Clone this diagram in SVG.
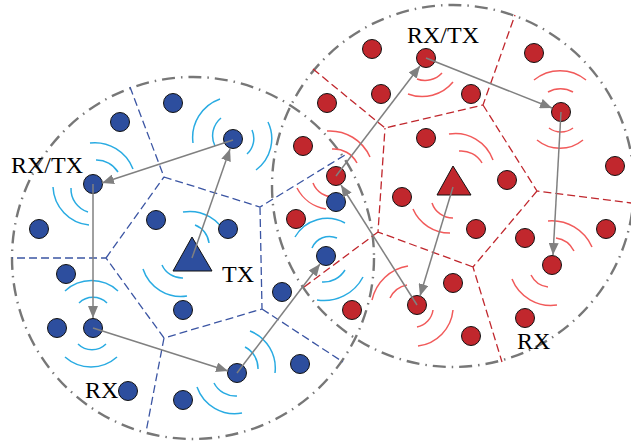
<svg xmlns="http://www.w3.org/2000/svg" width="631" height="446" viewBox="0 0 631 446">
<style>
.ring{fill:none;stroke:#777;stroke-width:2.4;stroke-dasharray:13 6 1.5 6}
.vb{fill:none;stroke:#3b55a3;stroke-width:1.3;stroke-dasharray:8 4}
.vr{fill:none;stroke:#c0272d;stroke-width:1.3;stroke-dasharray:8 4}
.wb{fill:none;stroke:#29abe2;stroke-width:1.5}
.wr{fill:none;stroke:#f15a5a;stroke-width:1.5}
.nb{fill:#2d4e9e;stroke:#111;stroke-width:1}
.nr{fill:#c1272d;stroke:#111;stroke-width:1}
.ar{fill:none;stroke:#808080;stroke-width:1.5;marker-end:url(#ah)}
.lbl{font-family:"Liberation Serif","Times New Roman",serif;font-size:24px;fill:#000}
</style>
<defs>
<marker id="ah" markerUnits="userSpaceOnUse" markerWidth="12" markerHeight="10" viewBox="0 0 12 10" refX="12" refY="5" orient="auto">
<path d="M0,0 L12,5 L0,10 z" fill="#808080"/>
</marker>
</defs>
<rect width="631" height="446" fill="#fff"/>
<g id="cells">
<circle class="ring" cx="193" cy="258" r="181"/>
<circle class="ring" cx="453" cy="186" r="181"/>
<path class="vb" d="M130,87 L164,177 L260,207 L345,155 M260,207 L262,309 L164,338 L106,258 L12,258 M262,309 L343,362 M106,258 L164,177 M164,338 L146,432"/>
<path class="vr" d="M313,69 L385,128 L483,105 L515,15 M483,105 L537,191 L631,203 M537,191 L473,267 L502,362 M473,267 L378,232 L385,128 M378,232 L300,290"/>
</g>
<g id="waves">
<path class="wb" d="M221,118 A23,23 0 0 0 215,146 M220,99 A41,41 0 0 0 193,143 M252,130 A21,21 0 0 1 247,154 M268,122 A39,39 0 0 1 256,170"/>
<path class="wb" d="M90,143 A41,41 0 0 1 133,169 M96,160 A25,25 0 0 1 118,172 M53,187 A40,40 0 0 0 89,225 M71,188 A24,24 0 0 0 88,212"/>
<path class="wb" d="M65,291 A39,39 0 0 1 118,291 M79,303 A20,20 0 0 1 107,303 M78,344 A20,20 0 0 0 106,344 M65,357 A39,39 0 0 0 117,357"/>
<path class="wb" d="M183,212 A40,40 0 0 1 227,237 M195,225 A22,22 0 0 1 209,243 M143,269 A40,40 0 0 0 187,296 M162,265 A22,22 0 0 0 183,278"/>
<path class="wb" d="M197,387 A40,40 0 0 0 242,413 M214,383 A24,24 0 0 0 237,396 M250,331 A40,40 0 0 1 275,373 M245,347 A24,24 0 0 1 258,369"/>
<path class="wb" d="M295,237 A37,37 0 0 1 345,223 M312,248 A19,19 0 0 1 337,238 M322,282 A25,25 0 0 0 345,270 M317,300 A44,44 0 0 0 363,277"/>
<path class="wr" d="M417,79 A23,23 0 0 0 442,73 M408,94 A40,40 0 0 0 453,82"/>
<path class="wr" d="M534,80 A41,41 0 0 1 586,80 M548,92 A25,25 0 0 1 573,92 M549,128 A20,20 0 0 0 573,128 M537,140 A36,36 0 0 0 583,140"/>
<path class="wr" d="M449,134 A40,40 0 0 1 493,160 M459,151 A24,24 0 0 1 482,163 M432,203 A22,22 0 0 0 453,218 M413,209 A40,40 0 0 0 450,233"/>
<path class="wr" d="M327,131 A44,44 0 0 1 370,157 M332,149 A26,26 0 0 1 357,163 M297,188 A40,40 0 0 0 326,209 M313,183 A22,22 0 0 0 335,197"/>
<path class="wr" d="M372,300 A44,44 0 0 1 408,266 M390,298 A24,24 0 0 1 407,285 M433,310 A20,20 0 0 1 417,327 M453,310 A40,40 0 0 1 418,346"/>
<path class="wr" d="M548,221 A44,44 0 0 1 592,247 M556,238 A24,24 0 0 1 574,251 M531,275 A22,22 0 0 0 548,287 M512,279 A42,42 0 0 0 557,305"/>
</g>
<g id="blue-nodes">
<g id="b1"><circle class="nb" cx="173" cy="103" r="9.5"/></g>
<g id="b2"><circle class="nb" cx="120" cy="122" r="9.5"/></g>
<g id="b3"><circle class="nb" cx="233" cy="139" r="9.5"/></g>
<g id="b4"><circle class="nb" cx="93" cy="184" r="9.5"/></g>
<g id="b5"><circle class="nb" cx="39" cy="229" r="9.5"/></g>
<g id="b6"><circle class="nb" cx="156" cy="220" r="9.5"/></g>
<g id="b7"><circle class="nb" cx="228" cy="229" r="9.5"/></g>
<g id="b8"><circle class="nb" cx="66" cy="274" r="9.5"/></g>
<g id="b9"><circle class="nb" cx="57" cy="328" r="9.5"/></g>
<g id="b10"><circle class="nb" cx="93" cy="328" r="9.5"/></g>
<g id="b11"><circle class="nb" cx="183" cy="310" r="9.5"/></g>
<g id="b12"><circle class="nb" cx="282" cy="292" r="9.5"/></g>
<g id="b13"><circle class="nb" cx="326" cy="256" r="9.5"/></g>
<g id="b14"><circle class="nb" cx="336" cy="202" r="9.5"/></g>
<g id="b15"><circle class="nb" cx="128" cy="391" r="9.5"/></g>
<g id="b16"><circle class="nb" cx="183" cy="400" r="9.5"/></g>
<g id="b17"><circle class="nb" cx="237" cy="373" r="9.5"/></g>
<g id="b18"><circle class="nb" cx="300" cy="364" r="9.5"/></g>
<g id="tx-blue"><polygon class="nb" points="192,237 173,271 212,271"/></g>
</g>
<g id="red-nodes">
<g id="r1"><circle class="nr" cx="372" cy="49" r="9.5"/></g>
<g id="r2"><circle class="nr" cx="426" cy="58" r="9.5"/></g>
<g id="r3"><circle class="nr" cx="534" cy="53" r="9.5"/></g>
<g id="r4"><circle class="nr" cx="327" cy="103" r="9.5"/></g>
<g id="r5"><circle class="nr" cx="381" cy="94" r="9.5"/></g>
<g id="r6"><circle class="nr" cx="471" cy="94" r="9.5"/></g>
<g id="r7"><circle class="nr" cx="561" cy="112" r="9.5"/></g>
<g id="r8"><circle class="nr" cx="303" cy="146" r="9.5"/></g>
<g id="r9"><circle class="nr" cx="426" cy="138" r="9.5"/></g>
<g id="r10"><circle class="nr" cx="615" cy="166" r="9.5"/></g>
<g id="r11"><circle class="nr" cx="336" cy="176" r="9.5"/></g>
<g id="r12"><circle class="nr" cx="507" cy="180" r="9.5"/></g>
<g id="r13"><circle class="nr" cx="402" cy="197" r="9.5"/></g>
<g id="r14"><circle class="nr" cx="296" cy="219" r="9.5"/></g>
<g id="r15"><circle class="nr" cx="476" cy="229" r="9.5"/></g>
<g id="r16"><circle class="nr" cx="525" cy="238" r="9.5"/></g>
<g id="r17"><circle class="nr" cx="606" cy="229" r="9.5"/></g>
<g id="r18"><circle class="nr" cx="552" cy="265" r="9.5"/></g>
<g id="r19"><circle class="nr" cx="453" cy="283" r="9.5"/></g>
<g id="r20"><circle class="nr" cx="417" cy="305" r="9.5"/></g>
<g id="r21"><circle class="nr" cx="352" cy="310" r="9.5"/></g>
<g id="r22"><circle class="nr" cx="471" cy="336" r="9.5"/></g>
<g id="r23"><circle class="nr" cx="525" cy="318" r="9.5"/></g>
<g id="tx-red"><polygon class="nr" points="453,166 437,195 471,195"/></g>
</g>
<g id="connectors">
<line class="ar" x1="192" y1="258" x2="230" y2="149"/>
<line class="ar" x1="233" y1="140" x2="102" y2="183"/>
<line class="ar" x1="93" y1="184" x2="93" y2="318"/>
<line class="ar" x1="93" y1="328" x2="228" y2="371"/>
<line class="ar" x1="237" y1="373" x2="320" y2="264"/>
<line class="ar" x1="453" y1="187" x2="420" y2="296"/>
<line class="ar" x1="417" y1="305" x2="341" y2="185"/>
<line class="ar" x1="336" y1="176" x2="420" y2="66"/>
<line class="ar" x1="426" y1="58" x2="552" y2="108"/>
<line class="ar" x1="561" y1="112" x2="553" y2="255"/>
</g>
<g id="labels">
<text class="lbl" x="11" y="173">RX/TX</text>
<text class="lbl" x="222" y="282">TX</text>
<text class="lbl" x="85" y="398">RX</text>
<text class="lbl" x="407" y="43">RX/TX</text>
<text class="lbl" x="517" y="349">RX</text>
</g>
</svg>
